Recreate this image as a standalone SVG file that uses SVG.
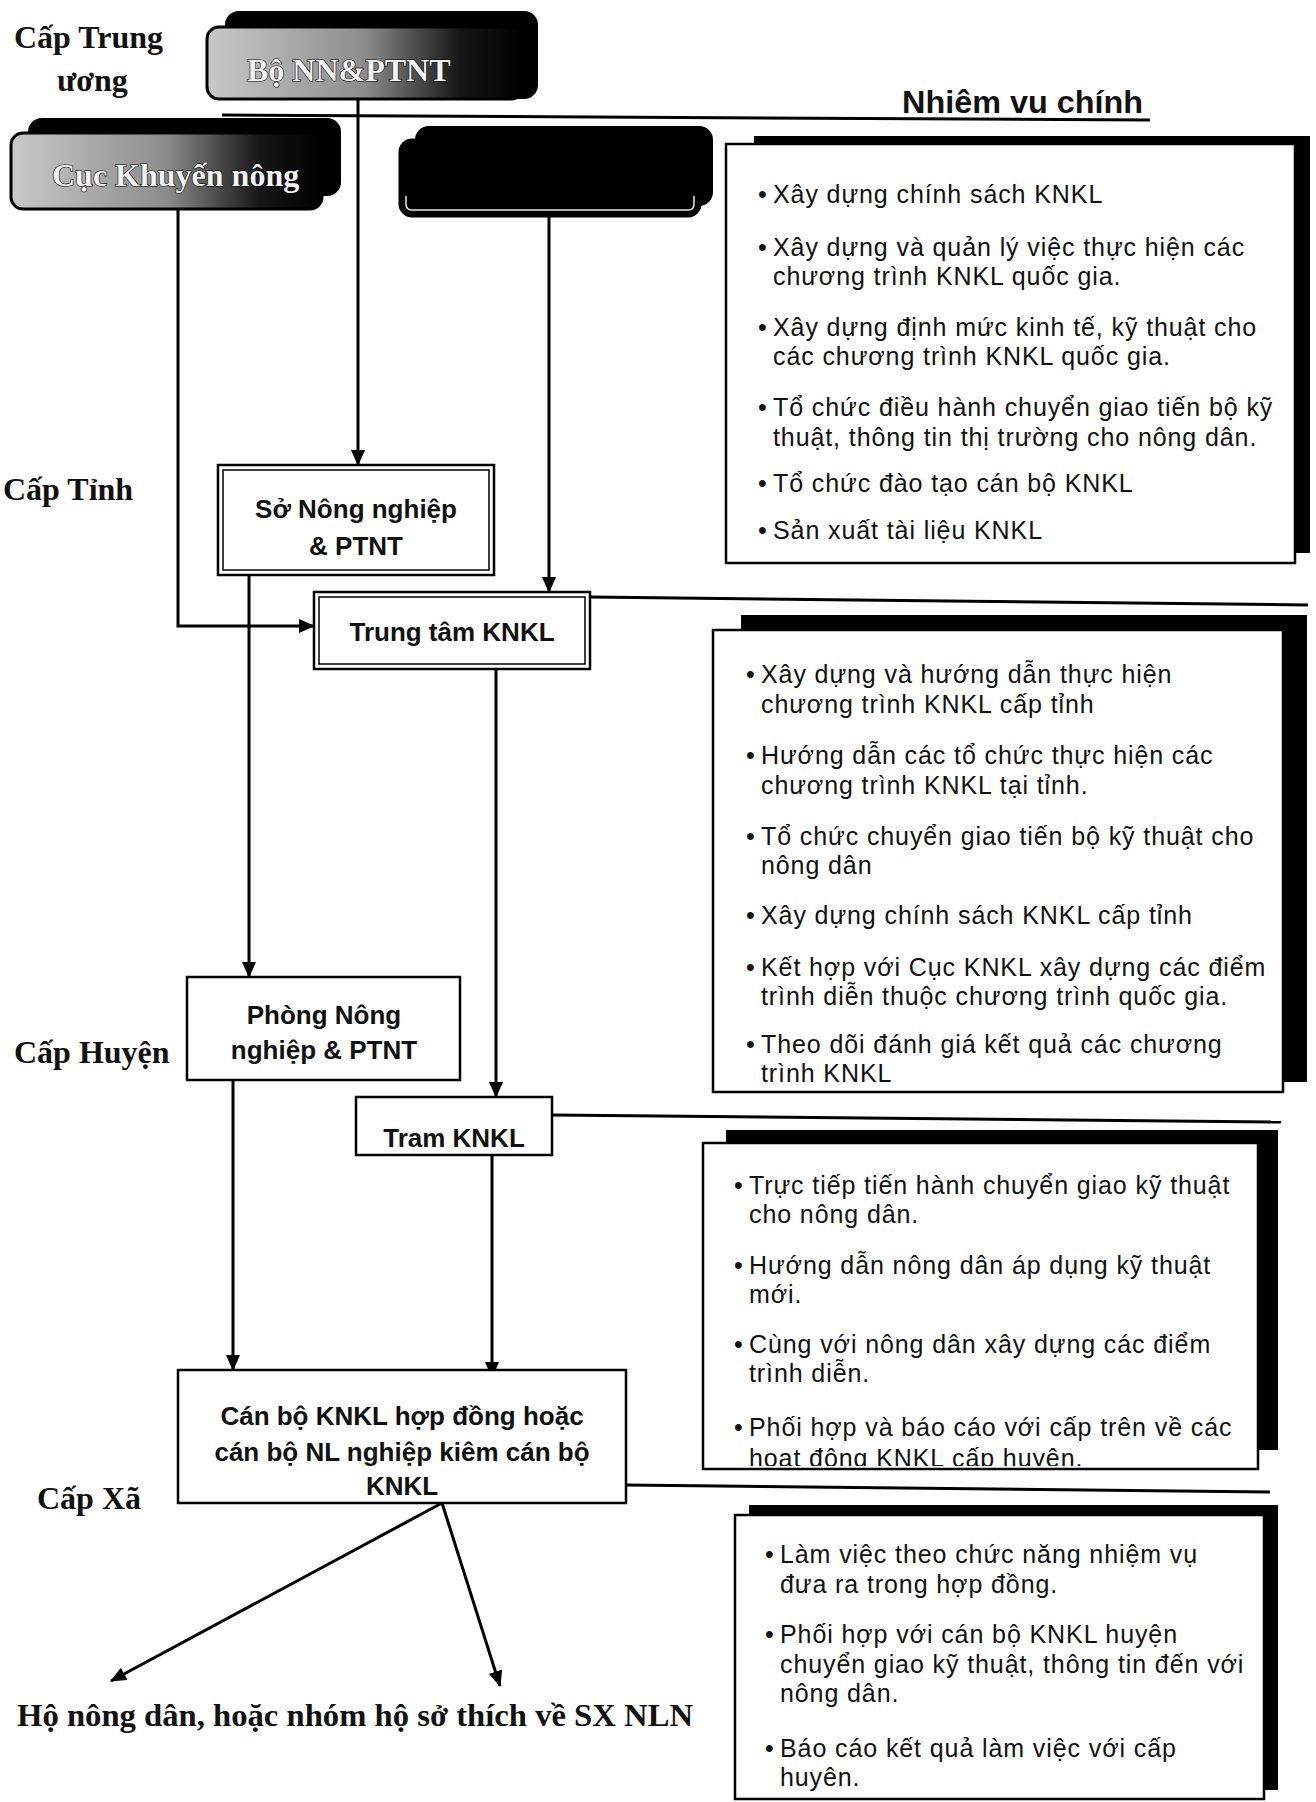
<svg xmlns="http://www.w3.org/2000/svg" width="1316" height="1802" viewBox="0 0 1316 1802">
  <style>
    .lvl { font-family: "Liberation Serif", "Times New Roman", serif; font-weight: bold; font-size: 32px; fill: #111; }
    .node { font-family: "Liberation Sans", Arial, sans-serif; font-weight: bold; font-size: 26px; fill: #111; text-anchor: middle; }
    .task { font-family: "Liberation Sans", Arial, sans-serif; font-size: 25px; letter-spacing: 0.9px; fill: #111; white-space: pre; }
    .head { font-family: "Liberation Sans", Arial, sans-serif; font-weight: bold; font-size: 31px; fill: #111; }
    .top { font-family: "Liberation Serif", "Times New Roman", serif; font-weight: bold; font-size: 32px; fill: #f2f2f2; stroke: #000; stroke-width: 1.2px; paint-order: stroke; }
    .box { fill: #fff; stroke: #000; stroke-width: 2.5; }
    .inner { fill: none; stroke: #000; stroke-width: 1.5; }
    .shadow { fill: #000; }
    .conn { stroke: #000; stroke-width: 3; fill: none; }
    .arrow { marker-end: url(#ah); }
  </style>
  <defs>
    <marker id="ah" viewBox="0 0 16 14" refX="15" refY="7" markerWidth="16" markerHeight="14" markerUnits="userSpaceOnUse" orient="auto">
      <path d="M0,0 L16,7 L0,14 Z" fill="#000"/>
    </marker>
    <linearGradient id="worn" x1="0" y1="0" x2="1" y2="0">
      <stop offset="0" stop-color="#c9c9c9"/>
      <stop offset="0.5" stop-color="#8c8c8c"/>
      <stop offset="0.8" stop-color="#161616"/>
      <stop offset="1" stop-color="#000"/>
    </linearGradient>
    <clipPath id="clipC"><rect x="703" y="1143" width="555" height="323"/></clipPath>
  </defs>

  <!-- level labels -->
  <g id="levels">
    <text class="lvl" x="14" y="48">Cấp Trung</text>
    <text class="lvl" x="57" y="91">ương</text>
    <text class="lvl" x="3" y="500">Cấp Tỉnh</text>
    <text class="lvl" x="14" y="1063">Cấp Huyện</text>
    <text class="lvl" x="37" y="1509">Cấp Xã</text>
  </g>

  <text class="head" x="902" y="113" textLength="241" lengthAdjust="spacingAndGlyphs">Nhiêm vu chính</text>

  <!-- connectors -->
  <g id="connectors">
    <path class="conn" d="M222,115 L1150,120"/>
    <path class="conn arrow" d="M358,98 V465"/>
    <path class="conn arrow" d="M178,209 V626 H314"/>
    <path class="conn arrow" d="M549,216 V592"/>
    <path class="conn arrow" d="M249,575 V977"/>
    <path class="conn arrow" d="M496,669 V1097"/>
    <path class="conn arrow" d="M233,1080 V1370"/>
    <path class="conn arrow" d="M492,1155 V1377"/>
    <path class="conn arrow" d="M442,1503 L111,1681"/>
    <path class="conn arrow" d="M442,1503 L500,1686"/>
    <path class="conn" d="M590,597 L1308,605"/>
    <path class="conn" d="M552,1115 L1281,1122"/>
    <path class="conn" d="M626,1485 L1270,1492"/>
  </g>

  <!-- central level -->
  <g id="bo-nn">
    <rect class="shadow" x="225" y="11" width="313" height="88" rx="14"/>
    <rect x="207" y="27" width="316" height="72" rx="12" fill="url(#worn)" stroke="#000" stroke-width="3"/>
    <text class="top" x="247" y="81">Bộ NN&amp;PTNT</text>
  </g>
  <g id="cuc-khuyen-nong">
    <rect class="shadow" x="28" y="118" width="313" height="78" rx="14"/>
    <rect x="11" y="133" width="311" height="76" rx="12" fill="url(#worn)" stroke="#000" stroke-width="3"/>
    <text class="top" x="52" y="186" font-size="31">Cục Khuyến nông</text>
  </g>
  <g id="co-quan-tw">
    <rect class="shadow" x="415" y="126" width="298" height="80" rx="14"/>
    <rect x="400" y="140" width="300" height="76" rx="12" fill="#000" stroke="#000" stroke-width="3"/>
    <path d="M406,196 V204 Q406,210 412,210 H688 Q694,210 694,204 V196" fill="none" stroke="#e8e8e8" stroke-width="1.5"/>
  </g>

  <!-- province level -->
  <g id="so-nn">
    <rect class="box" x="218" y="465" width="276" height="110"/>
    <rect class="inner" x="223" y="470" width="266" height="100"/>
    <text class="node" x="356" y="518">Sở Nông nghiệp</text>
    <text class="node" x="356" y="555">&amp; PTNT</text>
  </g>
  <g id="trung-tam-knkl">
    <rect class="box" x="314" y="592" width="276" height="77"/>
    <rect class="inner" x="319" y="597" width="266" height="67"/>
    <text class="node" x="452" y="641">Trung tâm KNKL</text>
  </g>

  <!-- district level -->
  <g id="phong-nn">
    <rect class="box" x="187" y="977" width="273" height="103"/>
    <text class="node" x="324" y="1024">Phòng Nông</text>
    <text class="node" x="324" y="1059">nghiệp &amp; PTNT</text>
  </g>
  <g id="tram-knkl">
    <rect class="box" x="356" y="1097" width="196" height="58"/>
    <text class="node" x="454" y="1147">Tram KNKL</text>
  </g>

  <!-- commune level -->
  <g id="can-bo-knkl">
    <rect class="box" x="178" y="1370" width="448" height="133"/>
    <text class="node" x="402" y="1425">Cán bộ KNKL hợp đồng hoặc</text>
    <text class="node" x="402" y="1461">cán bộ NL nghiệp kiêm cán bộ</text>
    <text class="node" x="402" y="1495">KNKL</text>
  </g>

  <g id="ho-nong-dan">
    <text class="lvl" x="17" y="1726" font-size="33" textLength="676" lengthAdjust="spacingAndGlyphs">Hộ nông dân, hoặc nhóm hộ sở thích về SX NLN</text>
  </g>

  <!-- tasks: central -->
  <g id="nv-trung-uong">
    <rect class="shadow" x="754" y="136" width="556" height="417"/>
    <rect class="box" x="726" y="144" width="569" height="419"/>
    <g class="task">
      <text x="758" y="203">•</text><text x="773" y="203">Xây  dựng chính sách KNKL</text>
      <text x="758" y="256">•</text><text x="773" y="256">Xây dựng và quản lý việc thực hiện các</text>
      <text x="773" y="285">chương trình KNKL quốc gia.</text>
      <text x="758" y="336">•</text><text x="773" y="336">Xây dựng định mức kinh tế, kỹ thuật cho</text>
      <text x="773" y="365">các chương trình KNKL quốc gia.</text>
      <text x="758" y="416">•</text><text x="773" y="416">Tổ chức điều hành chuyển giao tiến bộ kỹ</text>
      <text x="773" y="446">thuật, thông tin thị trường cho nông dân.</text>
      <text x="758" y="492">•</text><text x="773" y="492">Tổ chức đào tạo cán bộ KNKL</text>
      <text x="758" y="539">•</text><text x="773" y="539">Sản xuất tài liệu KNKL</text>
    </g>
  </g>

  <!-- tasks: province -->
  <g id="nv-tinh">
    <rect class="shadow" x="741" y="615" width="566" height="467"/>
    <rect class="box" x="713" y="630" width="570" height="462"/>
    <g class="task">
      <text x="746" y="683">•</text><text x="761" y="683">Xây  dựng và hướng dẫn thực hiện</text>
      <text x="761" y="713">chương trình KNKL cấp tỉnh</text>
      <text x="746" y="764">•</text><text x="761" y="764">Hướng dẫn các tổ chức thực hiện các</text>
      <text x="761" y="794">chương trình KNKL tại tỉnh.</text>
      <text x="746" y="845">•</text><text x="761" y="845">Tổ chức chuyển giao tiến bộ kỹ thuật cho</text>
      <text x="761" y="874">nông dân</text>
      <text x="746" y="924">•</text><text x="761" y="924">Xây dựng chính sách KNKL cấp tỉnh</text>
      <text x="746" y="976">•</text><text x="761" y="976">Kết hợp với Cục KNKL xây dựng các điểm</text>
      <text x="761" y="1005">trình diễn thuộc chương trình quốc gia.</text>
      <text x="746" y="1053">•</text><text x="761" y="1053">Theo dõi đánh giá kết quả các chương</text>
      <text x="761" y="1082">trình KNKL</text>
    </g>
  </g>

  <!-- tasks: district -->
  <g id="nv-huyen">
    <rect class="shadow" x="726" y="1130" width="552" height="320"/>
    <rect class="box" x="703" y="1143" width="555" height="326"/>
    <g class="task" clip-path="url(#clipC)">
      <text x="734" y="1194">•</text><text x="749" y="1194">Trực tiếp tiến hành chuyển giao kỹ thuật</text>
      <text x="749" y="1223">cho nông dân.</text>
      <text x="734" y="1274">•</text><text x="749" y="1274">Hướng dẫn nông dân áp dụng kỹ thuật</text>
      <text x="749" y="1303">mới.</text>
      <text x="734" y="1353">•</text><text x="749" y="1353">Cùng với nông dân xây dựng các điểm</text>
      <text x="749" y="1382">trình diễn.</text>
      <text x="734" y="1436">•</text><text x="749" y="1436">Phối hợp và báo cáo với cấp trên về các</text>
      <text x="749" y="1467">hoat đông KNKL cấp huyên.</text>
    </g>
  </g>

  <!-- tasks: commune -->
  <g id="nv-xa">
    <rect class="shadow" x="749" y="1505" width="529" height="285"/>
    <rect class="box" x="735" y="1515" width="529" height="284"/>
    <g class="task">
      <text x="765" y="1563">•</text><text x="780" y="1563">Làm việc theo chức năng nhiệm vụ</text>
      <text x="780" y="1593">đưa ra trong hợp đồng.</text>
      <text x="765" y="1643">•</text><text x="780" y="1643">Phối hợp với cán bộ KNKL huyện</text>
      <text x="780" y="1673">chuyển giao kỹ thuật, thông tin đến với</text>
      <text x="780" y="1702">nông dân.</text>
      <text x="765" y="1757">•</text><text x="780" y="1757">Báo cáo kết quả làm việc với cấp</text>
      <text x="780" y="1786">huyên.</text>
    </g>
  </g>
</svg>
